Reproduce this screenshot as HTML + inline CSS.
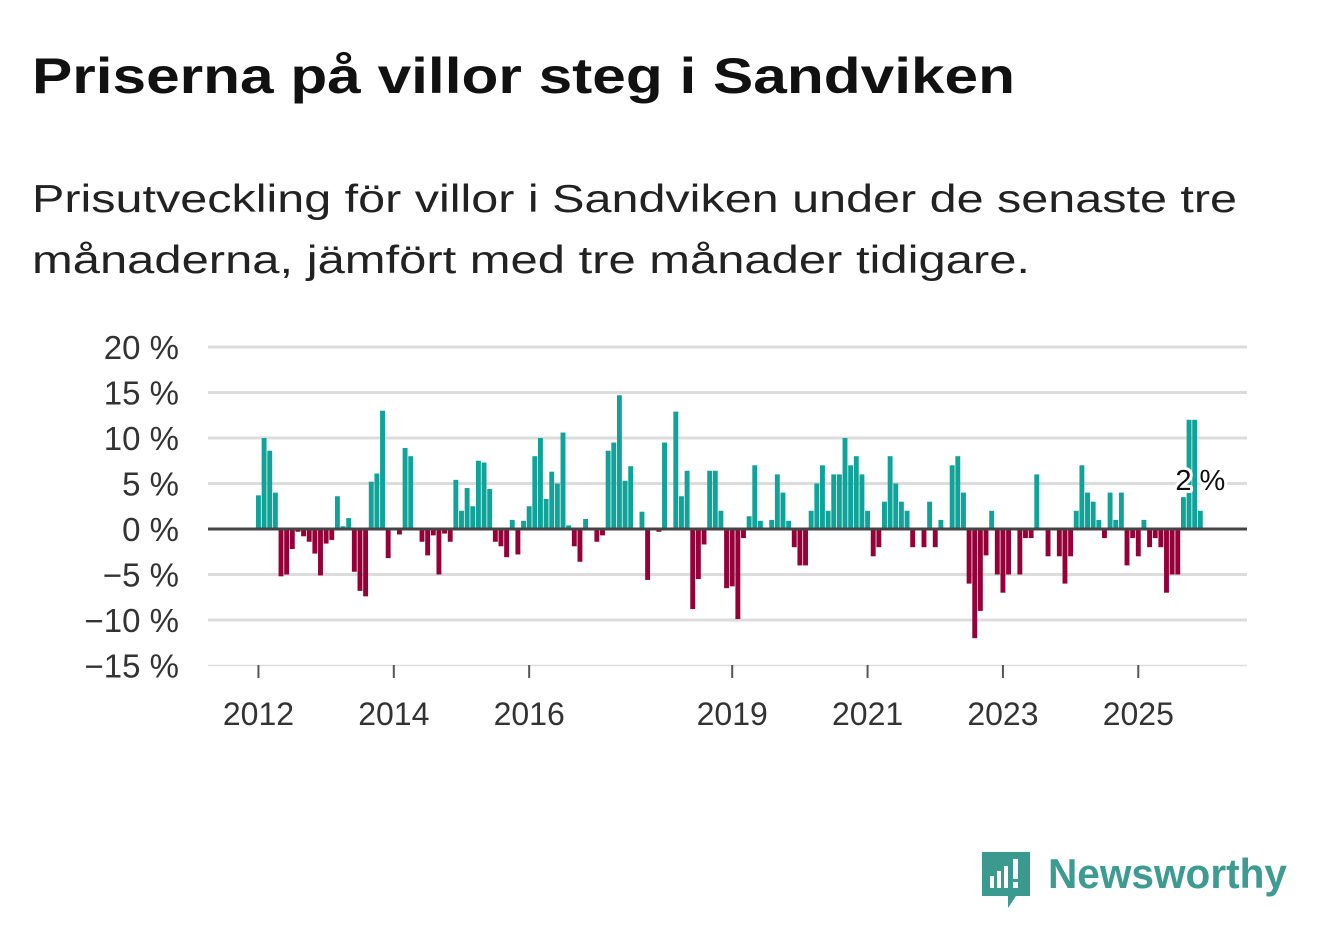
<!DOCTYPE html>
<html><head><meta charset="utf-8"><style>
html,body{margin:0;padding:0;background:#fff;}
svg{display:block;font-family:"Liberation Sans",sans-serif;}
</style></head><body>
<svg id="chart" width="1322" height="939" viewBox="0 0 1322 939" xmlns="http://www.w3.org/2000/svg">
<text x="32" y="93" font-size="50" font-weight="bold" fill="#111" textLength="983" lengthAdjust="spacingAndGlyphs">Priserna på villor steg i Sandviken</text>
<text x="32" y="212" font-size="39" fill="#222" textLength="1205" lengthAdjust="spacingAndGlyphs">Prisutveckling för villor i Sandviken under de senaste tre</text>
<text x="32" y="273" font-size="39" fill="#222" textLength="998" lengthAdjust="spacingAndGlyphs">månaderna, jämfört med tre månader tidigare.</text>
<g id="grid"></g>
<g id="bars"></g>
<g id="axes"></g>
<g>
<path d="M982 852 h48 v44 h-14 l-8 12 v-12 h-26 z" fill="#3a9a8f"/>
<rect x="990" y="876" width="4" height="12" fill="#fff"/><rect x="997" y="871" width="4" height="17" fill="#fff"/><rect x="1004" y="866" width="4" height="22" fill="#fff"/><rect x="1013" y="859" width="5" height="20" fill="#fff"/><rect x="1013" y="882" width="5" height="6" fill="#fff"/>
<text x="1048" y="888" font-size="42" font-weight="bold" fill="#3d9b91" textLength="239" lengthAdjust="spacingAndGlyphs">Newsworthy</text>
</g>
</svg>
<script>
const values = [3.7,10,8.6,4.0,-5.2,-5.0,-2.2,-0.3,-0.8,-1.4,-2.7,-5.1,-1.6,-1.2,3.6,0.3,1.2,-4.7,-6.8,-7.4,5.2,6.1,13.0,-3.2,0,-0.6,8.9,8.0,0,-1.4,-2.9,-0.7,-5.0,-0.5,-1.4,5.4,2.0,4.5,2.5,7.5,7.3,4.4,
-1.4,-1.9,-3.1,1.0,-2.8,0.9,2.5,8.0,10.0,3.3,6.3,5.0,10.6,0.4,-1.9,-3.6,1.1,0,-1.4,-0.7,8.6,9.5,14.7,5.3,6.9,0,1.9,-5.6,0,-0.3,9.5,0,12.9,3.6,6.4,-8.8,-5.5,-1.7,6.4,6.4,2.0,
-6.5,-6.3,-9.9,-1.0,1.4,7.0,0.9,0,1.0,6.0,4.0,0.9,-2.0,-4.0,-4.0,2.0,5.0,7.0,2.0,6.0,6.0,10.0,7.0,8.0,6.0,2.0,-3.0,-2.0,3.0,8.0,5.0,3.0,2.0,-2.0,0,-2.0,3.0,-2.0,1.0,0,7.0,8.0,
4.0,-6.0,-12.0,-9.0,-2.9,2.0,-5.0,-7.0,-5.0,0,-5.0,-1.0,-1.0,6.0,0,-3.0,0,-3.0,-6.0,-3.0,2.0,7.0,4.0,3.0,1.0,-1.0,4.0,1.0,4.0,-4.0,-1.0,-3.0,1.0,-2.0,-1.0,-2.0,-7.0,-5.0,-5.0,3.5,12.0,12.0,2.0];
const yTicks = [20,15,10,5,0,-5,-10,-15];
const yTickLabels = ["20 %","15 %","10 %","5 %","0 %","−5 %","−10 %","−15 %"];
const xTickYears = [2012,2014,2016,2019,2021,2023,2025];
const startYear = 2012;
const lastLabel = "2 %";

const NS="http://www.w3.org/2000/svg";
const x0=256, step=5.64, bw=4.9;
const y = v => 529 - v*9.1;
const xm = i => x0 + step*i;
function mk(tag, attrs, parent){const e=document.createElementNS(NS,tag);for(const k in attrs)e.setAttribute(k,attrs[k]);parent.appendChild(e);return e;}
const grid=document.getElementById('grid'), bars=document.getElementById('bars'), axes=document.getElementById('axes');
yTicks.forEach((t,i)=>{
  if(t!==0){const l=mk('line',{x1:208,x2:1247,y1:y(t),y2:y(t),stroke:'#dcdcdc','stroke-width':t===-15?1.5:3},grid);
  
  }
  const tx=mk('text',{x:179,y:y(t)+12,'font-size':33,fill:'#333','text-anchor':'end'},axes);
  tx.textContent=yTickLabels[i];
  
  
});
values.forEach((v,i)=>{
  const r=mk('rect',{x:xm(i),width:bw,y:Math.min(y(v),y(0)),height:Math.abs(y(v)-y(0)),fill:v>=0?'#0fa39a':'#960038'},bars);
  
  
});
const zl=mk('line',{x1:208,x2:1247,y1:y(0),y2:y(0),stroke:'#444','stroke-width':3},axes);


xTickYears.forEach(yr=>{
  const cx=xm((yr-startYear)*12)+bw/2;
  const tk=mk('line',{x1:cx,x2:cx,y1:665,y2:678,stroke:'#555','stroke-width':2},axes);
  
  
  const tx=mk('text',{x:cx,y:725,'font-size':32,fill:'#333','text-anchor':'middle'},axes);
  tx.textContent=yr;
  
  
});
const li=values.length-1;
const lab=mk('text',{x:xm(li)+bw/2,y:490,'font-size':29,fill:'#111','text-anchor':'middle',stroke:'#fff','stroke-width':6,'paint-order':'stroke','stroke-linejoin':'round'},axes);
lab.textContent=lastLabel;


</script>
</body></html>
